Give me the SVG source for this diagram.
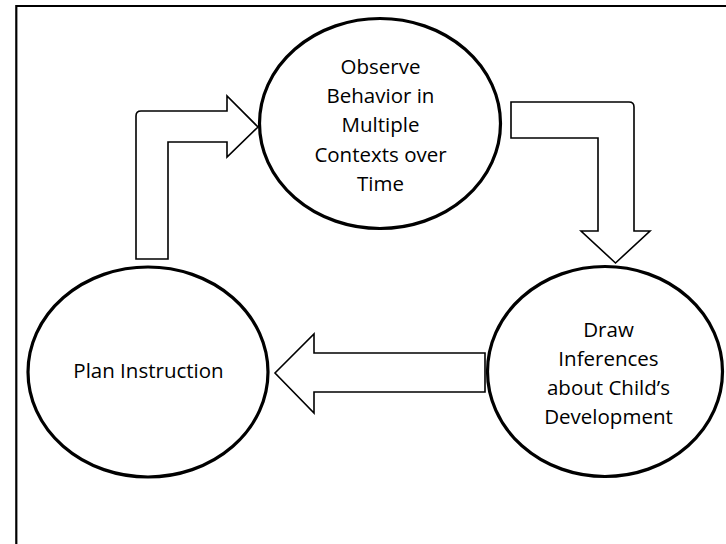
<svg xmlns="http://www.w3.org/2000/svg" width="726" height="544" viewBox="0 0 726 544">
  <style>
    .node { fill: #ffffff; stroke: #000000; stroke-width: 3.2; }
    .arrow { fill: #ffffff; stroke: #000000; stroke-width: 1.6; stroke-linejoin: miter; }
    .label { font-family: "Open Sans", "Noto Sans", "Liberation Sans", sans-serif; font-size: 20.5px; fill: #000000; text-anchor: middle; }
    .frame { fill: none; stroke: #000000; stroke-width: 2.2; }
  </style>
  <rect x="0" y="0" width="726" height="544" fill="#ffffff"/>
  <path class="frame" d="M16.3,546 V6 H728"/>
  <g id="connectors">
    <path class="arrow" d="M136,259 L136,116 Q136,111 141,111 L227,111 L227,96 L258,127 L227,157 L227,142 L168,142 L168,259 Z"/>
    <path class="arrow" d="M511,102 L629,102 Q634,102 634,107 L634,231 L650,231 L615.5,263 L581,231 L598,231 L598,138 L511,138 Z"/>
    <path class="arrow" d="M485,353 L314,353 L314,334 L275,373 L314,413 L314,392 L485,392 Z"/>
  </g>
  <g id="observe">
    <ellipse class="node" cx="380" cy="123.5" rx="120.5" ry="105"/>
    <text class="label" x="380.5" y="74">Observe</text>
    <text class="label" x="380.5" y="103">Behavior in</text>
    <text class="label" x="380.5" y="132">Multiple</text>
    <text class="label" x="380.5" y="162">Contexts over</text>
    <text class="label" x="380.5" y="191">Time</text>
  </g>
  <g id="plan">
    <ellipse class="node" cx="148" cy="372" rx="120" ry="105"/>
    <text class="label" x="148.5" y="378">Plan Instruction</text>
  </g>
  <g id="infer">
    <ellipse class="node" cx="605" cy="371.5" rx="117.5" ry="105"/>
    <text class="label" x="608.5" y="337">Draw</text>
    <text class="label" x="608.5" y="366">Inferences</text>
    <text class="label" x="608.5" y="395">about Child’s</text>
    <text class="label" x="608.5" y="424">Development</text>
  </g>
</svg>
